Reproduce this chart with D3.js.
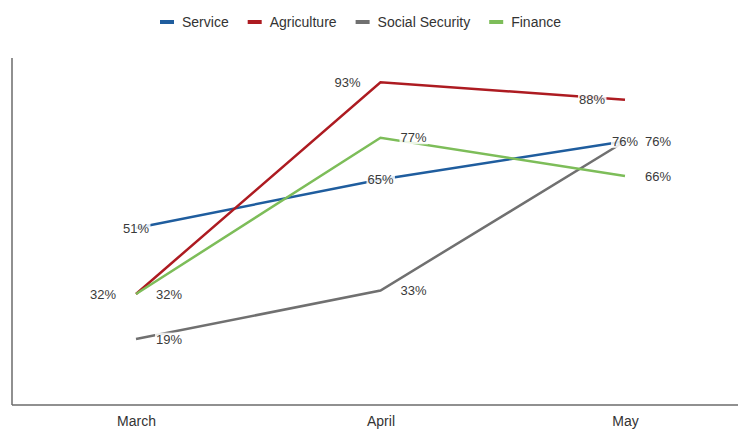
<!DOCTYPE html>
<html>
<head>
<meta charset="utf-8">
<script src="https://cdn.jsdelivr.net/npm/d3@7"></script>
<style>
  html, body { margin: 0; padding: 0; background: #fff; }
  svg { display: block; font-family: "Liberation Sans", Arial, sans-serif; }
</style>
</head>
<body>
<svg id="chart" width="738" height="429"></svg>
<script>
const categories = ["March", "April", "May"];
const seriesNames = ["Service", "Agriculture", "Social Security", "Finance"];
const service = [51, 65, 76];
const agriculture = [32, 93, 88];
const socialSecurity = [19, 33, 76];
const finance = [32, 77, 66];
const colors = ["#1f5d9e", "#ad1b21", "#707070", "#7dbd59"];
// label placement per series: -1 left, 0 centered, +1 right
const labelSide = [0, -1, 1, 1];
const yTicks = [0, 100];

const series = [service, agriculture, socialSecurity, finance];

const W = 738, H = 429;
const margin = { left: 12, top: 58, bottom: 405 };
const svg = d3.select("#chart");

const x = d3.scalePoint().domain(categories).range([136, 625]);
const y = d3.scaleLinear().domain([yTicks[0], yTicks[1]]).range([margin.bottom, margin.top]);

// axes
svg.append("line")
  .attr("x1", margin.left).attr("x2", margin.left)
  .attr("y1", y(100)).attr("y2", y(0))
  .attr("stroke", "#6b6b6b").attr("stroke-width", 1.5);
svg.append("line")
  .attr("x1", margin.left).attr("x2", W)
  .attr("y1", y(0)).attr("y2", y(0))
  .attr("stroke", "#6b6b6b").attr("stroke-width", 1.5);

const xAxis = d3.axisBottom(x).tickSize(0).tickPadding(0);
const gx = svg.append("g").attr("transform", `translate(0,${y(0)})`).call(xAxis);
gx.select(".domain").remove();
gx.selectAll("text")
  .attr("y", 21).attr("dy", 0)
  .attr("font-size", 14)
  .attr("font-family", "'Liberation Sans', Arial, sans-serif")
  .attr("fill", "#333");

// lines
const line = d3.line().x((d, i) => x(categories[i])).y(d => y(d));
series.forEach((s, k) => {
  svg.append("path")
    .datum(s)
    .attr("d", line)
    .attr("fill", "none")
    .attr("stroke", colors[k])
    .attr("stroke-width", 2.5);
});

// labels
const labels = svg.append("g");
series.forEach((s, k) => {
  s.forEach((v, i) => {
    const cx = x(categories[i]) + labelSide[k] * 33;
    const cy = y(v);
    const g = labels.append("g").attr("transform", `translate(${cx},${cy})`);
    const t = g.append("text")
      .attr("text-anchor", "middle")
      .attr("dy", "0.35em")
      .attr("font-size", 13)
      .attr("fill", "#3a3a3a")
      .text(v + "%");
    const bb = t.node().getBBox();
    g.insert("rect", "text")
      .attr("x", bb.x - 1).attr("y", bb.y + 1)
      .attr("width", bb.width + 2).attr("height", bb.height - 2)
      .attr("fill", "#fff").attr("opacity", 0.85);
  });
});

// legend
const legend = svg.append("g").attr("transform", "translate(0,22)");
let lx = 160;
seriesNames.forEach((name, k) => {
  legend.append("rect")
    .attr("x", lx).attr("y", -2).attr("width", 14).attr("height", 4)
    .attr("fill", colors[k]);
  const t = legend.append("text")
    .attr("x", lx + 22).attr("dy", "0.35em")
    .attr("font-size", 14).attr("fill", "#333")
    .text(name);
  lx += 22 + t.node().getComputedTextLength() + 19;
});
</script>
</body>
</html>
